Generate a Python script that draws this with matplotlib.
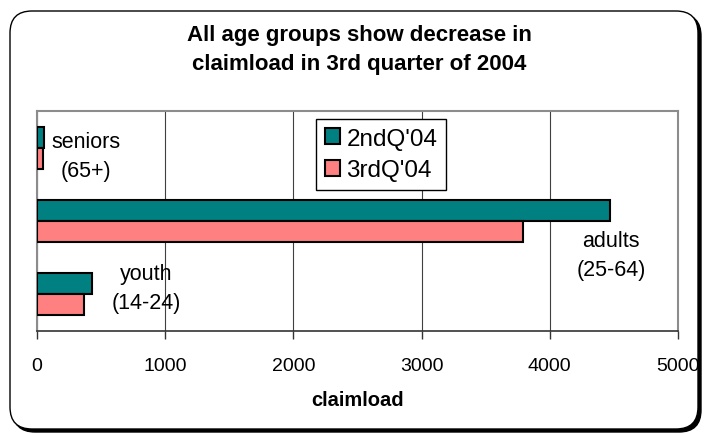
import numpy as np
import matplotlib
matplotlib.use('Agg')
import matplotlib.pyplot as plt
from matplotlib.patches import FancyBboxPatch, Patch

# data
groups = ['seniors\n(65+)', 'adults\n(25-64)', 'youth\n(14-24)']
q2_2004 = [55, 4470, 430]
q3_2004 = [45, 3790, 370]
series_names = ["2ndQ'04", "3rdQ'04"]
xticks = [0, 1000, 2000, 3000, 4000, 5000]

# where the group names sit (data coords)
label_pos = [(380, 0.12), (4480, 1.46), (850, 1.91)]

colors = ['#008080', '#FF8080']

plt.rcParams['font.family'] = ['Liberation Sans', 'DejaVu Sans']

fig = plt.figure(figsize=(7.04, 4.35), dpi=100)

# rounded frame with a drop shadow
shadow = FancyBboxPatch((0.13, 0.02), 6.88, 4.18, boxstyle='round,pad=0,rounding_size=0.22',
                        transform=fig.dpi_scale_trans, facecolor='black', edgecolor='black',
                        zorder=-2)
frame = FancyBboxPatch((0.10, 0.05), 6.88, 4.18, boxstyle='round,pad=0,rounding_size=0.22',
                       transform=fig.dpi_scale_trans, facecolor='white', edgecolor='black',
                       linewidth=1.0, zorder=-1)
fig.patches.extend([shadow, frame])

ax = fig.add_axes([37/704, (435-332)/435, 641/704, 220/435])
ax.patch.set_alpha(0)

y = np.arange(len(groups))
h = 0.287
ax.barh(y - h/2, q2_2004, height=h, color=colors[0], edgecolor='black', linewidth=1.5,
        label=series_names[0], zorder=3)
ax.barh(y + h/2, q3_2004, height=h, color=colors[1], edgecolor='black', linewidth=1.5,
        label=series_names[1], zorder=3)

for (lx, ly), name in zip(label_pos, groups):
    ax.text(lx, ly, name, ha='center', va='center', fontsize=15.5, linespacing=1.5, zorder=4)

ax.set_xlim(0, 5000)
ax.set_ylim(2.5, -0.5)
ax.set_xticks(xticks)
ax.set_xticklabels([str(t) for t in xticks], fontsize=14)
ax.set_yticks([])
ax.tick_params(axis='x', direction='out', length=6, width=1, color='#333333', pad=13)
ax.set_axisbelow(True)
ax.grid(axis='x', color='#404040', linewidth=0.8)

for side in ['left', 'top', 'right']:
    ax.spines[side].set_color('#8c8c8c')
    ax.spines[side].set_linewidth(1.5)
ax.spines['bottom'].set_color('#333333')
ax.spines['bottom'].set_linewidth(1.2)

ax.set_xlabel('claimload', fontsize=14.5, fontweight='bold', labelpad=11)

fig.text(0.51, 1 - 50/435, 'All age groups show decrease in\nclaimload in 3rd quarter of 2004',
         ha='center', va='center', fontsize=16, fontweight='bold', linespacing=1.5)

handles = [Patch(facecolor=c, edgecolor='black', linewidth=1.5) for c in colors]
leg = ax.legend(handles, series_names, loc='upper left', fontsize=17.5,
                bbox_to_anchor=(316/704, 1 - 120/435), bbox_transform=fig.transFigure,
                borderaxespad=0, fancybox=False, framealpha=1, edgecolor='black',
                handlelength=0.65, handleheight=0.65, handletextpad=0.25,
                labelspacing=0.4, borderpad=0.35)
leg.get_frame().set_linewidth(1.0)
leg.set_zorder(5)

fig.savefig('out.png', dpi=100)
